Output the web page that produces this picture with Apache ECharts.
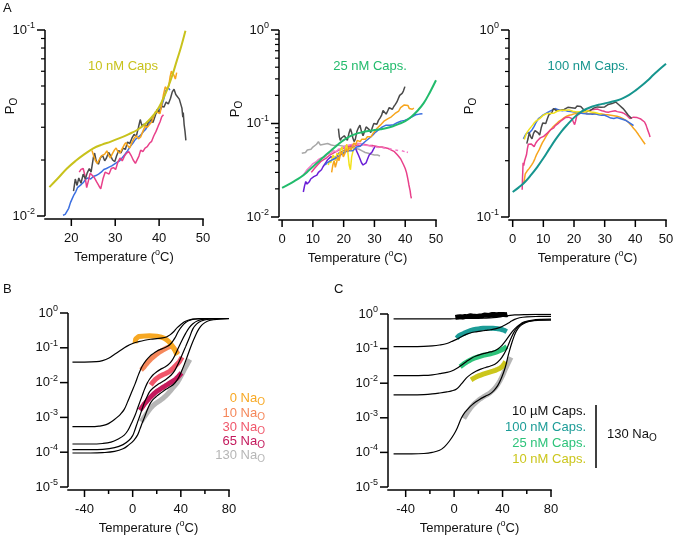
<!DOCTYPE html>
<html><head><meta charset="utf-8">
<script src="https://cdn.jsdelivr.net/npm/echarts@6/dist/echarts.min.js"></script>
<style>html,body{margin:0;padding:0;background:#fff}#c{width:673px;height:538px}</style>
</head><body><div id="c"></div>
<script>
// ---------- Panel A1 : 10 nM capsaicin ----------
const a1Fit = [[15,0.0143],[17,0.0160],[19,0.0180],[21,0.0198],[23,0.0215],[25,0.0231],[27,0.0242],[29,0.0251],[31,0.0262],[33,0.0275],[35,0.0290],[37,0.0315],[39,0.0355],[40,0.0385],[41,0.0430],[42,0.0490],[43,0.0570],[44,0.0680],[45,0.0810],[46,0.0990]];
const a1Grey = [[20.5,0.0136],[20.9,0.0158],[21.3,0.0146],[21.7,0.0160],[22.2,0.0150],[22.7,0.0168],[23.2,0.0158],[23.6,0.0170],[24.1,0.0180],[24.5,0.0172],[25.0,0.0205],[25.3,0.0218],[25.7,0.0196],[26.2,0.0190],[26.6,0.0205],[27.1,0.0212],[27.6,0.0198],[28.0,0.0205],[28.5,0.0220],[28.9,0.0212],[29.4,0.0200],[29.9,0.0196],[30.3,0.0210],[30.8,0.0225],[31.3,0.0218],[31.8,0.0232],[32.3,0.0228],[32.8,0.0250],[33.3,0.0245],[33.8,0.0262],[34.3,0.0275],[34.8,0.0268],[35.3,0.0300],[35.7,0.0330],[36.1,0.0305],[36.6,0.0312],[37.1,0.0300],[37.6,0.0322],[38.1,0.0330],[38.6,0.0318],[39.1,0.0345],[39.6,0.0375],[40.1,0.0360],[40.6,0.0390],[41.1,0.0385],[41.6,0.0410],[42.1,0.0400],[42.6,0.0430],[43.0,0.0465],[43.4,0.0480],[43.8,0.0450],[44.2,0.0440],[44.6,0.0425],[45.0,0.0415],[45.2,0.0380],[45.4,0.0340],[45.5,0.0360],[45.7,0.0310],[45.9,0.0285],[46.1,0.0255]];
const a1Blue = [[18.1,0.0101],[18.6,0.0102],[19.0,0.0106],[19.4,0.0110],[19.8,0.0118],[20.2,0.0124],[20.6,0.0130],[21.0,0.0135],[21.4,0.0142],[21.8,0.0140],[22.3,0.0148],[22.8,0.0152],[23.3,0.0158],[23.8,0.0160],[24.4,0.0158],[25.0,0.0163],[25.6,0.0165],[26.2,0.0168],[26.8,0.0172],[27.4,0.0178],[28.0,0.0180],[28.6,0.0183],[29.2,0.0186],[29.8,0.0190],[30.4,0.0194],[31.0,0.0198],[31.6,0.0206],[32.2,0.0214],[32.8,0.0224],[33.4,0.0236],[34.0,0.0246],[34.6,0.0258],[35.2,0.0265],[35.8,0.0272],[36.4,0.0284],[37.0,0.0294],[37.6,0.0310],[38.2,0.0330],[38.8,0.0348],[39.4,0.0360],[40.0,0.0372],[40.5,0.0385],[41.0,0.0420],[41.5,0.0470],[42.0,0.0490],[42.5,0.0476]];
const a1Pink = [[21.8,0.0172],[22.2,0.0178],[22.7,0.0180],[23.1,0.0165],[23.5,0.0142],[23.9,0.0155],[24.3,0.0170],[24.8,0.0165],[25.3,0.0160],[25.8,0.0152],[26.3,0.0145],[26.7,0.0140],[27.2,0.0158],[27.7,0.0172],[28.1,0.0175],[28.6,0.0168],[29.1,0.0180],[29.6,0.0182],[30.1,0.0178],[30.6,0.0195],[31.1,0.0205],[31.6,0.0198],[32.1,0.0210],[32.6,0.0218],[33.1,0.0222],[33.6,0.0212],[34.1,0.0200],[34.6,0.0192],[35.0,0.0188],[35.4,0.0210],[35.8,0.0226],[36.3,0.0222],[36.8,0.0232],[37.3,0.0236],[37.8,0.0246],[38.3,0.0252],[38.8,0.0270],[39.3,0.0285],[39.8,0.0305],[40.2,0.0320],[40.6,0.0342],[41.0,0.0350]];
const a1Orange = [[24.7,0.0225],[25.1,0.0210],[25.5,0.0198],[25.9,0.0192],[26.3,0.0200],[26.8,0.0210],[27.2,0.0205],[27.6,0.0215],[28.1,0.0224],[28.5,0.0212],[28.9,0.0205],[29.3,0.0215],[29.8,0.0226],[30.2,0.0232],[30.6,0.0222],[31.1,0.0218],[31.5,0.0228],[32.0,0.0240],[32.4,0.0248],[32.9,0.0238],[33.3,0.0232],[33.8,0.0248],[34.3,0.0262],[34.8,0.0270],[35.3,0.0260],[35.8,0.0266],[36.3,0.0285],[36.8,0.0305],[37.3,0.0300],[37.8,0.0310],[38.3,0.0320],[38.8,0.0345],[39.2,0.0365],[39.7,0.0360],[40.2,0.0355],[40.6,0.0400],[41.0,0.0450],[41.4,0.0495],[41.8,0.0480],[42.2,0.0500],[42.5,0.0560],[42.8,0.0600],[43.1,0.0615],[43.4,0.0570],[43.7,0.0545],[44.0,0.0590]];

// ---------- Panel A2 : 25 nM capsaicin ----------
const a2Fit = [[0,0.0205],[2,0.0222],[4,0.0242],[6,0.0266],[8,0.0300],[10,0.0345],[12,0.0395],[14,0.0455],[16,0.0518],[18,0.0590],[20,0.0665],[22,0.0730],[24,0.0775],[26,0.0805],[28,0.0830],[30,0.0850],[32,0.0870],[34,0.0895],[36,0.0935],[38,0.0990],[40,0.1060],[42,0.1180],[44,0.1370],[46,0.1650],[48,0.2150],[50,0.2900]];
const a2DarkGrey = [[18.3,0.088],[18.6,0.072],[18.9,0.066],[19.3,0.070],[19.7,0.068],[20.2,0.074],[20.7,0.070],[21.2,0.066],[21.7,0.078],[22.2,0.088],[22.6,0.080],[23.0,0.070],[23.4,0.064],[23.8,0.068],[24.3,0.082],[24.8,0.090],[25.3,0.096],[25.8,0.082],[26.3,0.074],[26.8,0.082],[27.3,0.092],[27.8,0.096],[28.3,0.086],[28.8,0.080],[29.3,0.090],[29.8,0.100],[30.3,0.105],[30.8,0.098],[31.3,0.108],[31.8,0.114],[32.3,0.122],[32.8,0.138],[33.3,0.132],[33.8,0.126],[34.3,0.136],[34.8,0.148],[35.3,0.150],[35.8,0.142],[36.3,0.152],[36.8,0.160],[37.3,0.170],[37.8,0.178],[38.2,0.200],[38.6,0.196],[39.0,0.210],[39.4,0.222],[39.9,0.248]];
const a2Orange = [[16.1,0.030],[16.5,0.036],[16.9,0.040],[17.3,0.034],[17.7,0.038],[18.1,0.044],[18.5,0.040],[18.9,0.046],[19.4,0.050],[19.9,0.044],[20.4,0.048],[20.9,0.054],[21.4,0.050],[21.9,0.056],[22.4,0.052],[22.9,0.058],[23.4,0.062],[23.9,0.059],[24.4,0.066],[24.9,0.068],[25.4,0.064],[25.9,0.068],[26.5,0.070],[27.1,0.068],[27.7,0.072],[28.3,0.074],[28.9,0.072],[29.5,0.078],[30.1,0.082],[30.7,0.088],[31.3,0.090],[31.9,0.096],[32.5,0.100],[33.1,0.106],[33.7,0.108],[34.3,0.112],[34.9,0.114],[35.5,0.118],[36.1,0.122],[36.7,0.128],[37.3,0.132],[37.9,0.136],[38.5,0.148],[39.1,0.150],[39.7,0.158],[40.3,0.162],[40.9,0.156],[41.3,0.145],[41.8,0.150],[42.3,0.142],[42.8,0.146]];
const a2Blue = [[14.0,0.036],[14.6,0.038],[15.2,0.037],[15.8,0.040],[16.4,0.039],[17.0,0.042],[17.6,0.041],[18.2,0.044],[18.8,0.043],[19.4,0.047],[20.0,0.048],[20.6,0.050],[21.2,0.049],[21.8,0.051],[22.4,0.052],[23.0,0.051],[23.6,0.053],[24.2,0.056],[24.8,0.058],[25.4,0.057],[26.0,0.060],[26.6,0.062],[27.2,0.065],[27.8,0.066],[28.4,0.070],[29.0,0.072],[29.6,0.076],[30.2,0.080],[30.8,0.084],[31.4,0.086],[32.0,0.089],[32.6,0.092],[33.2,0.094],[33.8,0.096],[34.4,0.097],[35.0,0.096],[35.6,0.098],[36.2,0.097],[36.8,0.099],[37.4,0.102],[38.0,0.104],[38.6,0.106],[39.2,0.105],[39.8,0.108],[40.4,0.110],[41.0,0.112],[41.6,0.116],[42.2,0.118],[42.8,0.122],[43.4,0.124],[44.0,0.122],[44.6,0.126],[45.2,0.124],[45.6,0.127]];
const a2LightGrey = [[6.4,0.048],[7.0,0.050],[7.6,0.049],[8.2,0.052],[8.8,0.054],[9.4,0.053],[10.0,0.056],[10.6,0.058],[11.2,0.060],[11.8,0.064],[12.4,0.059],[13.0,0.058],[13.6,0.060],[14.2,0.059],[14.8,0.061],[15.4,0.060],[16.0,0.059],[17.0,0.058],[18.0,0.059],[19.0,0.058],[20.0,0.057],[21.0,0.057],[22.0,0.056],[23.0,0.055],[24.0,0.054],[25.0,0.053],[26.0,0.051],[27.0,0.049],[28.0,0.048],[29.0,0.047],[30.0,0.046],[31.0,0.046],[31.8,0.045]];
const a2Purple = [[6.9,0.0185],[7.3,0.0215],[7.7,0.0240],[8.1,0.0225],[8.5,0.0215],[8.9,0.0240],[9.3,0.0255],[9.8,0.0248],[10.3,0.0270],[10.8,0.0262],[11.3,0.0280],[11.8,0.0300],[12.3,0.0295],[12.8,0.0320],[13.3,0.0345],[13.8,0.0330],[14.3,0.0385],[14.8,0.0410],[15.3,0.0395],[15.8,0.0440],[16.3,0.0460],[16.8,0.0430],[17.3,0.0450],[17.8,0.0440],[18.3,0.0480],[18.8,0.0460],[19.3,0.0500],[19.8,0.0480],[20.3,0.0520],[20.8,0.0540],[21.3,0.0510],[21.8,0.0550],[22.3,0.0590],[22.8,0.0560],[23.3,0.0580],[23.8,0.0550],[24.3,0.0500],[24.8,0.0460],[25.3,0.0420],[25.8,0.0380],[26.3,0.0360],[26.8,0.0350],[27.3,0.0380],[27.8,0.0420],[28.3,0.0460],[28.8,0.0440],[29.3,0.0500],[29.8,0.0540],[30.2,0.0570]];
const a2HotPink = [[9.5,0.030],[10.5,0.033],[11.5,0.036],[12.5,0.039],[13.5,0.041],[14.5,0.043],[15.5,0.046],[16.5,0.048],[17.5,0.050],[18.5,0.052],[19.5,0.054],[20.5,0.055],[21.5,0.056],[22.5,0.058],[23.5,0.057],[24.5,0.059],[25.5,0.058],[26.5,0.060],[27.5,0.059],[28.5,0.058],[29.5,0.058],[30.5,0.057],[31.5,0.056],[32.5,0.056],[33.5,0.055],[34.5,0.054],[35.5,0.052],[36.5,0.050],[37.0,0.048],[37.5,0.046],[38.0,0.044],[38.5,0.042],[39.0,0.040],[39.5,0.036],[40.0,0.033],[40.4,0.030],[40.7,0.027],[41.0,0.024],[41.2,0.022],[41.4,0.023],[41.6,0.019],[41.8,0.017],[42.0,0.0158]];
const a2LightPink = [[6.9,0.028],[7.5,0.030],[8.1,0.032],[8.7,0.033],[9.3,0.035],[9.9,0.037],[10.5,0.036],[11.1,0.039],[11.7,0.041],[12.3,0.040],[12.9,0.043],[13.5,0.045],[14.1,0.044],[14.7,0.047],[15.3,0.049],[15.9,0.048],[16.5,0.051],[17.1,0.052],[17.7,0.050],[18.3,0.053],[18.9,0.055],[19.5,0.054],[20.1,0.056],[20.7,0.058],[21.3,0.057],[21.9,0.059],[22.5,0.061],[23.1,0.060],[23.7,0.062],[24.3,0.061],[24.9,0.063],[25.5,0.061],[26.1,0.060],[26.7,0.059],[27.3,0.060],[27.9,0.058],[28.5,0.058],[29.1,0.057],[29.7,0.056]];
// sparse dashed tail: '-' marks the gaps between the recorded dashes
const a2LightPinkTail = [[30.5,0.056],[31.4,0.0555],[32.0,'-'],[32.6,0.055],[33.5,0.0545],[34.1,'-'],[34.7,0.054],[35.6,0.053],[36.2,'-'],[36.8,0.052],[37.7,0.0515],[38.3,'-'],[38.9,0.051],[39.8,0.050],[40.2,'-'],[40.5,0.0495],[40.9,0.049]];
const a2Yellow = [[15.0,0.036],[15.4,0.040],[15.8,0.038],[16.2,0.042],[16.6,0.046],[17.0,0.044],[17.4,0.040],[17.8,0.048],[18.2,0.050],[18.6,0.046],[19.0,0.052],[19.4,0.056],[19.8,0.050],[20.2,0.046],[20.6,0.054],[21.0,0.060],[21.4,0.048],[21.8,0.036],[22.2,0.032],[22.6,0.044],[23.0,0.050],[23.4,0.056],[23.8,0.054]];

// ---------- Panel A3 : 100 nM capsaicin ----------
const a3Fit = [[0,0.136],[2,0.144],[4,0.154],[6,0.168],[8,0.185],[10,0.206],[12,0.232],[14,0.260],[16,0.288],[18,0.314],[20,0.340],[22,0.362],[24,0.378],[26,0.390],[28,0.398],[30,0.405],[32,0.412],[34,0.420],[36,0.432],[38,0.450],[40,0.474],[42,0.503],[44,0.537],[46,0.578],[48,0.618],[50,0.660]];
const a3Blue = [[3.5,0.262],[4.0,0.272],[4.5,0.280],[5.0,0.276],[5.6,0.284],[6.3,0.292],[7.0,0.305],[7.7,0.322],[8.4,0.336],[9.1,0.342],[9.8,0.350],[10.6,0.356],[11.4,0.362],[12.2,0.368],[13.0,0.374],[13.8,0.380],[14.6,0.376],[15.4,0.372],[16.2,0.370],[17.0,0.372],[18.0,0.368],[19.0,0.366],[20.0,0.364],[21.0,0.362],[22.0,0.360],[23.0,0.358],[24.0,0.356],[25.0,0.356],[26.0,0.354],[27.0,0.356],[28.0,0.352],[29.0,0.350],[30.0,0.350],[31.0,0.344],[32.0,0.338],[33.0,0.336],[34.0,0.340],[35.0,0.336],[36.0,0.332],[37.0,0.328],[38.0,0.320],[39.0,0.312],[39.4,0.308]];
const a3Grey = [[4.6,0.247],[5.0,0.262],[5.4,0.282],[5.8,0.270],[6.3,0.262],[6.8,0.280],[7.3,0.290],[7.8,0.296],[8.3,0.282],[8.8,0.274],[9.3,0.300],[9.8,0.318],[10.3,0.322],[10.8,0.316],[11.3,0.335],[11.8,0.352],[12.3,0.346],[12.8,0.362],[13.3,0.380],[13.8,0.376],[14.4,0.370],[15.0,0.378],[15.6,0.372],[16.2,0.368],[16.8,0.376],[17.4,0.382],[18.0,0.386],[18.6,0.378],[19.2,0.384],[19.8,0.388],[20.4,0.382],[21.0,0.392],[21.6,0.396],[22.2,0.390],[22.8,0.380],[23.4,0.372],[24.0,0.365],[24.6,0.362],[25.2,0.370],[25.8,0.378],[26.4,0.382],[27.0,0.378],[27.6,0.388],[28.2,0.392],[28.8,0.386],[29.4,0.392],[30.0,0.388],[30.6,0.394],[31.2,0.400],[31.8,0.398],[32.4,0.404],[33.0,0.410],[33.6,0.412],[34.2,0.406],[34.8,0.396],[35.4,0.392],[36.0,0.380],[36.6,0.370],[37.2,0.362],[37.7,0.350],[38.2,0.345],[38.8,0.336]];
const a3Yellow = [[3.8,0.260],[4.2,0.272],[4.6,0.282],[5.0,0.288],[5.5,0.296],[6.0,0.300],[6.5,0.310],[7.0,0.318],[7.6,0.326],[8.2,0.332],[8.8,0.336],[9.4,0.340],[10.0,0.350],[10.6,0.356],[11.2,0.358],[11.8,0.362],[12.4,0.358],[13.0,0.362],[13.6,0.360],[14.2,0.364],[14.8,0.370],[15.4,0.366],[16.0,0.372],[16.6,0.368],[17.2,0.372],[17.8,0.370],[18.4,0.374],[19.0,0.370],[19.6,0.368],[20.2,0.366],[20.8,0.364],[21.4,0.362],[22.0,0.366],[22.6,0.368],[23.2,0.364],[23.8,0.366],[24.4,0.370],[25.0,0.368],[25.6,0.364],[26.2,0.366],[26.8,0.362],[27.4,0.360],[28.0,0.358],[28.6,0.356],[29.0,0.355]];
const a3Pink = [[3.1,0.140],[3.2,0.160],[3.4,0.195],[3.6,0.188],[3.9,0.200],[4.2,0.196],[4.5,0.215],[4.8,0.232],[5.1,0.245],[5.5,0.244],[6.0,0.246],[6.5,0.242],[7.0,0.238],[7.5,0.248],[8.0,0.255],[8.5,0.252],[9.0,0.265],[9.5,0.262],[10.1,0.270],[10.7,0.268],[11.2,0.280],[11.7,0.285],[12.3,0.292],[12.8,0.297],[13.4,0.300],[13.9,0.308],[14.4,0.312],[15.0,0.318],[15.5,0.324],[16.1,0.330],[16.6,0.336],[17.2,0.340],[17.7,0.344],[18.3,0.342],[18.8,0.338],[19.3,0.336],[19.8,0.322],[20.2,0.312],[20.5,0.325],[20.9,0.348],[21.5,0.354],[22.0,0.358],[22.6,0.363],[23.2,0.366],[23.9,0.368],[24.7,0.370],[25.5,0.374],[26.3,0.376],[26.9,0.380],[27.6,0.378],[28.3,0.374],[29.1,0.370],[29.8,0.368],[30.5,0.364],[31.2,0.363],[31.9,0.366],[32.6,0.368],[33.4,0.370],[34.1,0.366],[34.8,0.364],[35.6,0.362],[36.3,0.358],[37.0,0.352],[37.6,0.346],[38.2,0.336],[38.8,0.338],[39.4,0.342],[40.0,0.342],[40.6,0.340],[41.2,0.338],[41.8,0.334],[42.4,0.328],[43.0,0.322],[43.5,0.310],[43.9,0.296],[44.3,0.284],[44.6,0.275],[44.8,0.268]];
const a3Orange = [[3.5,0.150],[3.8,0.158],[4.1,0.170],[4.4,0.166],[4.7,0.176],[5.0,0.172],[5.4,0.182],[5.8,0.186],[6.2,0.190],[6.7,0.196],[7.2,0.204],[7.7,0.214],[8.2,0.222],[8.7,0.230],[9.2,0.240],[9.7,0.250],[10.2,0.258],[10.8,0.268],[11.4,0.278],[12.0,0.288],[12.6,0.296],[13.2,0.304],[13.8,0.310],[14.5,0.318],[15.2,0.326],[16.0,0.332],[16.8,0.340],[17.6,0.346],[18.4,0.350],[19.2,0.352],[20.0,0.356],[21.0,0.358],[22.0,0.360],[23.0,0.360],[24.0,0.358],[25.0,0.356],[26.0,0.358],[27.0,0.356],[28.0,0.356],[29.0,0.355],[30.0,0.353],[31.0,0.352],[32.0,0.350],[33.0,0.348],[34.0,0.346],[35.0,0.342],[36.0,0.336],[37.0,0.328],[37.8,0.320],[38.6,0.310],[39.4,0.298],[40.2,0.288],[41.0,0.276],[41.8,0.264],[42.5,0.254],[43.2,0.245]];

// ---------- Panel B : external Na+ ----------
const bFit0 = [[-50,0.039],[-40,0.039],[-30,0.040],[-25,0.043],[-20,0.050],[-15,0.065],[-10,0.085],[-5,0.110],[0,0.133],[5,0.150],[10,0.165],[15,0.176],[20,0.184],[25,0.192],[28,0.205],[31,0.235],[34,0.290],[37,0.380],[40,0.470],[43,0.560],[46,0.620],[50,0.665],[55,0.685],[60,0.690],[70,0.692],[80,0.692]];
const bFit10 = [[-50,0.00054],[-35,0.00054],[-28,0.00056],[-22,0.00062],[-17,0.00078],[-13,0.00100],[-10,0.00125],[-7,0.0017],[-4,0.0029],[-1,0.0052],[2,0.0092],[5,0.0175],[8,0.0300],[11,0.0430],[14,0.0560],[17,0.0680],[20,0.0800],[23,0.0900],[26,0.0990],[29,0.1100],[32,0.1350],[35,0.1900],[38,0.3000],[41,0.4200],[44,0.5300],[47,0.6100],[51,0.6650],[57,0.6900],[68,0.6950],[80,0.6950]];
const bFit30 = [[-50,0.000172],[-35,0.000172],[-25,0.000178],[-18,0.000195],[-12,0.00024],[-7,0.00031],[-4,0.00042],[-1,0.00068],[2,0.00115],[4,0.0018],[6,0.0028],[8,0.0043],[10,0.0066],[12,0.0095],[14,0.0125],[17,0.0168],[20,0.0205],[23,0.0240],[26,0.0272],[29,0.0315],[32,0.0400],[35,0.0600],[38,0.1000],[41,0.1650],[44,0.2600],[47,0.3800],[50,0.4900],[54,0.6000],[60,0.6700],[70,0.6900],[80,0.6950]];
const bFit65 = [[-50,0.000118],[-35,0.000118],[-25,0.000121],[-15,0.000135],[-8,0.000165],[-3,0.00022],[0,0.00030],[2,0.00045],[4,0.00072],[6,0.00112],[8,0.0018],[10,0.0028],[12,0.0040],[14,0.0054],[17,0.0070],[20,0.0084],[23,0.0098],[26,0.0113],[29,0.0135],[32,0.0165],[35,0.0225],[38,0.0360],[41,0.0620],[44,0.1080],[47,0.1900],[50,0.3500],[53,0.4800],[57,0.5900],[63,0.6600],[72,0.6900],[80,0.6950]];
const bFit130 = [[-50,0.000095],[-35,0.000095],[-25,0.000097],[-15,0.000105],[-8,0.000125],[-3,0.000165],[1,0.00022],[4,0.00031],[6,0.00046],[8,0.00070],[10,0.00105],[12,0.00160],[14,0.0023],[16,0.0030],[19,0.0038],[22,0.0046],[25,0.0055],[28,0.0065],[31,0.0076],[34,0.0090],[37,0.0120],[40,0.0190],[43,0.0340],[46,0.0650],[49,0.1250],[52,0.2200],[55,0.3500],[58,0.4700],[62,0.5800],[67,0.6400],[73,0.6800],[80,0.6950]];
const bData0 = [[2,0.135],[2.5,0.18],[3,0.20],[5,0.21],[8,0.215],[11,0.22],[14,0.222],[17,0.22],[20,0.215],[23,0.205],[26,0.19],[28,0.172],[30,0.15],[32,0.125],[33.5,0.105],[35,0.085],[36,0.072],[37,0.062]];
const bData10 = [[7,0.023],[9,0.027],[11,0.033],[13,0.040],[15,0.047],[17,0.054],[19,0.062],[21,0.070],[23,0.078],[25,0.086],[27,0.094],[29,0.102],[31,0.108],[33,0.110],[34.5,0.100],[36,0.082],[37.5,0.066]];
const bData30 = [[15,0.0085],[17,0.0105],[19,0.0125],[21,0.0140],[23,0.0155],[25,0.0168],[27,0.0180],[29,0.0195],[31,0.0215],[33,0.0245],[35,0.0290],[37,0.0340],[39,0.0410],[40.5,0.0500],[41,0.0540]];
const bData65 = [[6,0.0016],[8,0.0020],[10,0.0025],[12,0.0030],[14,0.0036],[16,0.0042],[18,0.0049],[20,0.0056],[22,0.0062],[24,0.0069],[26,0.0076],[28,0.0084],[30,0.0093],[32,0.0103],[34,0.0113],[36,0.0128],[38,0.0150],[39.5,0.0172],[40.5,0.0190]];
const bData130 = [[7,0.00075],[9,0.00095],[11,0.00120],[13,0.00150],[15,0.00185],[17,0.0022],[19,0.0025],[21,0.0028],[23,0.0031],[25,0.0035],[27,0.0040],[29,0.0047],[31,0.0056],[33,0.0068],[35,0.0082],[37,0.0100],[39,0.0130],[41,0.0175],[43,0.0240],[45,0.0320],[46.5,0.0400],[47.5,0.0460]];
const bLabels = ['0', '10', '30', '65', '130'];

// ---------- Panel C : capsaicin, 130 Na+ ----------
const cFit10u = [[-50,0.72],[-30,0.72],[-10,0.722],[0,0.73],[10,0.74],[20,0.75],[30,0.77],[35,0.80],[40,0.85],[45,0.90],[50,0.94],[60,0.965],[70,0.975],[80,0.98]];
const cFit100n = [[-50,0.114],[-35,0.114],[-25,0.116],[-18,0.120],[-12,0.127],[-6,0.140],[-2,0.160],[2,0.185],[6,0.220],[10,0.258],[14,0.288],[18,0.306],[22,0.320],[26,0.335],[30,0.350],[34,0.370],[38,0.410],[42,0.480],[46,0.580],[50,0.700],[54,0.780],[60,0.830],[70,0.850],[80,0.855]];
const cFit25n = [[-50,0.0166],[-35,0.0166],[-25,0.0168],[-18,0.0175],[-12,0.0188],[-6,0.0205],[-2,0.0225],[2,0.0265],[6,0.0330],[10,0.0420],[14,0.0520],[18,0.0610],[22,0.0680],[26,0.0740],[30,0.0800],[34,0.0880],[38,0.1100],[42,0.1600],[46,0.2500],[50,0.3700],[54,0.4900],[58,0.5900],[64,0.6600],[72,0.7000],[80,0.7100]];
const cFit10n = [[-50,0.0046],[-35,0.0046],[-25,0.0047],[-18,0.0049],[-12,0.0052],[-6,0.0056],[-2,0.0060],[2,0.0068],[6,0.0095],[10,0.0140],[14,0.0183],[18,0.0222],[22,0.0255],[26,0.0285],[30,0.0315],[34,0.0360],[38,0.0480],[41,0.0680],[44,0.1100],[47,0.2000],[50,0.3200],[53,0.4400],[57,0.5400],[62,0.6200],[70,0.6600],[80,0.6700]];
const cFit130 = [[-50,0.0000912],[-35,0.0000912],[-25,0.000093],[-18,0.0001],[-12,0.000115],[-8,0.000145],[-4,0.00021],[0,0.00034],[3,0.00055],[6,0.00098],[9,0.00145],[12,0.0019],[15,0.0024],[18,0.0029],[21,0.0034],[24,0.0039],[27,0.0044],[30,0.0050],[33,0.0062],[36,0.0085],[39,0.0140],[42,0.0270],[45,0.0700],[48,0.1600],[51,0.3000],[54,0.4300],[58,0.5400],[63,0.6200],[70,0.6600],[80,0.6700]];
const cData10u = [[1,0.80],[2,0.86],[3,0.82],[4,0.88],[5,0.84],[6,0.86],[7,0.82],[8,0.87],[9,0.85],[10,0.88],[11,0.84],[12,0.86],[13,0.89],[14,0.85],[15,0.87],[16,0.90],[17,0.86],[18,0.88],[19,0.85],[20,0.89],[21,0.87],[22,0.91],[23,0.88],[24,0.90],[25,0.93],[26,0.89],[27,0.92],[28,0.95],[29,0.91],[30,0.94],[31,0.97],[32,0.93],[33,0.96],[34,0.99],[35,0.95],[36,0.98],[37,0.96],[38,1.0],[39,0.97],[40,0.99],[41,0.96],[42,0.98],[43,0.95],[44,0.97]];
const cData100n = [[2,0.20],[3,0.22],[4,0.235],[6,0.255],[8,0.275],[10,0.295],[12,0.315],[14,0.335],[16,0.350],[18,0.362],[20,0.372],[22,0.380],[24,0.385],[26,0.388],[28,0.390],[30,0.390],[32,0.388],[34,0.384],[36,0.376],[38,0.366],[40,0.350],[42,0.330],[43.5,0.310]];
const cData25n = [[5,0.030],[6,0.033],[8,0.036],[10,0.040],[12,0.044],[14,0.048],[16,0.052],[18,0.055],[20,0.058],[22,0.061],[24,0.064],[26,0.066],[28,0.068],[30,0.071],[32,0.074],[34,0.078],[36,0.082],[38,0.088],[40,0.095],[42,0.105],[43.5,0.114]];
const cData10n = [[14,0.0125],[16,0.0138],[18,0.0150],[20,0.0162],[22,0.0172],[24,0.0182],[26,0.0192],[28,0.0202],[30,0.0212],[32,0.0222],[34,0.0235],[36,0.0252],[38,0.0272],[40,0.0310],[41.5,0.0370],[42.5,0.0420]];
const cData130 = [[8,0.00095],[10,0.00125],[12,0.0016],[14,0.0020],[16,0.0024],[18,0.0028],[20,0.0032],[22,0.0036],[24,0.0040],[26,0.0044],[28,0.0048],[30,0.0054],[32,0.0062],[34,0.0074],[36,0.0092],[38,0.0120],[40,0.0165],[42,0.0240],[44,0.0340],[46,0.0480],[47,0.0560]];
const cLegend = ['10 µM Caps.', '100 nM Caps.', '25 nM Caps.', '10 nM Caps.'];

// ---------- tick values ----------
const xTicksA1 = [20, 30, 40, 50];
const xTicksA = [0, 10, 20, 30, 40, 50];
const xTicksBC = [-40, 0, 40, 80];
const xMinorBC = [-20, 20, 60];
const yTicksA1 = [0.01, 0.1];
const yTicksA2 = [0.01, 0.1, 1];
const yTicksA3 = [0.1, 1];
const yTicksBC = [1e-5, 1e-4, 1e-3, 1e-2, 1e-1, 1];
const yMinorA1 = [0.02,0.03,0.04,0.05,0.06,0.07,0.08,0.09];
const yMinorA2 = [0.02,0.03,0.04,0.05,0.06,0.07,0.08,0.09,0.2,0.3,0.4,0.5,0.6,0.7,0.8,0.9];
const yMinorA3 = [0.2,0.3,0.4,0.5,0.6,0.7,0.8,0.9];

// ---------- layout & style ----------
const FONT = '"Liberation Sans", Arial, sans-serif';
const TXT = '#111';
const C = {
  yel: '#c8c21c', grn: '#22bb6c', teal: '#16958e',
  dgrey: '#4a4a4a', blue: '#3b6fe0', orange: '#f7a51c', pink: '#e8408a',
  purple: '#6a1fd6', lgrey: '#a8a8a8', lpink: '#f47cc8', yellow: '#f2e21a',
  bOr: '#f7a823', bSal: '#f5875a', bCor: '#f0566a', bCrim: '#c3195c', bGrey: '#b6b6b6',
  cTeal: '#1c9c97', cGrn: '#2dc37a', cYel: '#cbc61c'
};
const grids = [
  {left: 45, top: 30, width: 158, height: 186},
  {left: 279, top: 30, width: 157, height: 187},
  {left: 509, top: 30, width: 157, height: 187},
  {left: 68, top: 313, width: 161, height: 174},
  {left: 388, top: 314, width: 163, height: 173}
].map(g => Object.assign(g, {outerBoundsMode: 'none', containLabel: false}));
const xRanges = [[14, 50], [-1, 50], [-1.2, 50], [-53.7, 80], [-54.6, 80]];
const yRanges = [[0.01, 0.1], [0.01, 1], [0.1, 1], [1e-5, 1], [1e-5, 1]];
const xMajorByPanel = [xTicksA1, xTicksA, xTicksA, xTicksBC, xTicksBC];
const xMinorByPanel = [[], [], [], xMinorBC, xMinorBC];
const yMajorByPanel = [yTicksA1, yTicksA2, yTicksA3, yTicksBC, yTicksBC];
const yMinorByPanel = [yMinorA1, yMinorA2, yMinorA3, [], []];
const X_OFFSET = 3;

function supRich() {
  return {
    b: {fontSize: 13, color: TXT, fontFamily: FONT},
    s: {fontSize: 9, color: TXT, fontFamily: FONT, padding: [0, 0, 9, 0]}
  };
}
// axis components: labels and titles (lines/ticks are drawn by the frame series below)
const xAxis = xRanges.map((r, i) => ({
  type: 'value', gridIndex: i, min: r[0], max: r[1], position: 'bottom', offset: X_OFFSET,
  axisLine: {show: false, onZero: false}, axisTick: {show: false}, splitLine: {show: false},
  axisLabel: {customValues: xMajorByPanel[i].slice(), color: TXT, fontSize: 13, fontFamily: FONT, margin: 13},
  name: '{b|Temperature (}{s|o}{b|C)}', nameLocation: 'middle', nameGap: 29,
  nameTextStyle: {rich: supRich()}
}));
const yAxis = yRanges.map((r, i) => ({
  type: 'log', logBase: 10, gridIndex: i, min: r[0], max: r[1], position: 'left',
  axisLine: {show: false, onZero: false}, axisTick: {show: false}, splitLine: {show: false},
  axisLabel: {margin: 10, formatter: v => '{b|10}{s|' + Math.round(Math.log10(v)) + '}', rich: supRich()}
}));

// ---------- data series ----------
function ln(data, p, color, width, extra) {
  return Object.assign({
    type: 'line', data, xAxisIndex: p, yAxisIndex: p, showSymbol: false, symbol: 'none',
    lineStyle: {color, width}, itemStyle: {color}, silent: true, animation: false, z: 2
  }, extra || {});
}
const sm = () => ({smooth: 0.4, z: 3});
const series = [
  ln(a1Blue, 0, C.blue, 1.5), ln(a1Pink, 0, C.pink, 1.5), ln(a1Grey, 0, C.dgrey, 1.5),
  ln(a1Orange, 0, C.orange, 1.5), ln(a1Fit, 0, C.yel, 2, sm()),
  ln(a2LightGrey, 1, C.lgrey, 1.5), ln(a2Purple, 1, C.purple, 1.5), ln(a2HotPink, 1, C.pink, 1.5),
  ln(a2LightPink, 1, C.lpink, 1.5), ln(a2LightPinkTail, 1, C.lpink, 1.5, {connectNulls: false}),
  ln(a2Yellow, 1, C.yellow, 1.5), ln(a2Blue, 1, C.blue, 1.5), ln(a2Orange, 1, C.orange, 1.5),
  ln(a2DarkGrey, 1, C.dgrey, 1.5), ln(a2Fit, 1, C.grn, 2, sm()),
  ln(a3Orange, 2, C.orange, 1.5), ln(a3Pink, 2, C.pink, 1.5), ln(a3Blue, 2, C.blue, 1.5),
  ln(a3Grey, 2, C.dgrey, 1.5), ln(a3Yellow, 2, C.yellow, 1.5), ln(a3Fit, 2, C.teal, 2, sm()),
  ln(bData130, 3, C.bGrey, 5), ln(bData65, 3, C.bCrim, 5), ln(bData30, 3, C.bCor, 5),
  ln(bData10, 3, C.bSal, 5), ln(bData0, 3, C.bOr, 5),
  ln(bFit0, 3, '#000', 1.2, sm()), ln(bFit10, 3, '#000', 1.2, sm()),
  ln(bFit30, 3, '#000', 1.2, sm()), ln(bFit65, 3, '#000', 1.2, sm()),
  ln(bFit130, 3, '#000', 1.2, sm()),
  ln(cData130, 4, C.bGrey, 5), ln(cData10n, 4, C.cYel, 5), ln(cData25n, 4, C.cGrn, 5),
  ln(cData100n, 4, C.cTeal, 5), ln(cData10u, 4, '#000', 5),
  ln(cFit10u, 4, '#000', 1.2, sm()), ln(cFit100n, 4, '#000', 1.2, sm()),
  ln(cFit25n, 4, '#000', 1.2, sm()), ln(cFit10n, 4, '#000', 1.2, sm()),
  ln(cFit130, 4, '#000', 1.2, sm())
];

// ---------- axis frames: lines + ticks placed through the axes' own scales ----------
// kind: 0 major y tick, 1 minor y tick, 2 major x tick, 3 minor x tick, 4 y axis line, 5 x axis line
function frameSeries(p) {
  const xr = xRanges[p], yr = yRanges[p];
  const items = [];
  yMajorByPanel[p].forEach(v => items.push([xr[0], v, 0]));
  yMinorByPanel[p].forEach(v => items.push([xr[0], v, 1]));
  xMajorByPanel[p].forEach(v => items.push([v, yr[0], 2]));
  xMinorByPanel[p].forEach(v => items.push([v, yr[0], 3]));
  items.push([xr[0], yr[0], 4]);
  items.push([xr[0], yr[0], 5]);
  return {
    type: 'custom', coordinateSystem: 'cartesian2d', xAxisIndex: p, yAxisIndex: p,
    clip: false, silent: true, animation: false, z: 5, data: items,
    renderItem: function (params, api) {
      const x = api.value(0), y = api.value(1), kind = api.value(2);
      const pt = api.coord([x, y]);
      const st = {stroke: '#000', lineWidth: kind === 1 ? 1.2 : 1.5, fill: null};
      let shape;
      if (kind === 0 || kind === 1) {
        const len = kind === 0 ? 8 : 4;
        shape = {x1: pt[0] - len, y1: pt[1], x2: pt[0], y2: pt[1]};
      } else if (kind === 2 || kind === 3) {
        const len = kind === 2 ? 7 : 4;
        shape = {x1: pt[0], y1: pt[1] + X_OFFSET, x2: pt[0], y2: pt[1] + X_OFFSET + len};
      } else if (kind === 4) {
        const top = api.coord([x, yr[1]]);
        shape = {x1: pt[0], y1: pt[1], x2: top[0], y2: top[1]};
      } else {
        const right = api.coord([xr[1], y]);
        shape = {x1: pt[0] - 0.75, y1: pt[1] + X_OFFSET, x2: right[0] + 0.75, y2: right[1] + X_OFFSET};
      }
      return {type: 'line', shape, style: st};
    }
  };
}
for (let p = 0; p < 5; p++) series.push(frameSeries(p));

// ---------- texts ----------
function subRich(color) {
  return {
    b: {fontSize: 13, fill: color, fontFamily: FONT},
    s: {fontSize: 10, fill: color, fontFamily: FONT, padding: [8, 0, 0, 0]}
  };
}
function txt(x, y, text, color, align) {
  return {type: 'text', x, y, silent: true, style: {
    text, fill: color, font: '13px ' + FONT, align: align || 'center', verticalAlign: 'middle'
  }};
}
function richTxt(x, y, text, color, align, rot) {
  return {type: 'text', x, y, rotation: rot || 0, silent: true, style: {
    text, fill: color, font: '13px ' + FONT, align: align || 'center', verticalAlign: 'middle',
    rich: subRich(color)
  }};
}
const bColors = [C.bOr, C.bSal, C.bCor, C.bCrim, C.bGrey];
const bY = [398, 413, 427, 441, 455];
const cColors = ['#111', C.cTeal, C.cGrn, C.cYel];
const cY = [411, 427, 443, 459];
const graphic = [
  txt(3, 8, 'A', TXT, 'left'), txt(3, 289, 'B', TXT, 'left'), txt(334, 289, 'C', TXT, 'left'),
  richTxt(10, 106, '{b|P}{s|O}', TXT, 'center', Math.PI / 2),
  richTxt(235, 109, '{b|P}{s|O}', TXT, 'center', Math.PI / 2),
  richTxt(469, 106, '{b|P}{s|O}', TXT, 'center', Math.PI / 2),
  txt(123, 66, '10 nM Caps', C.yel), txt(370, 66, '25 nM Caps.', C.grn), txt(588, 66, '100 nM Caps.', C.teal)
];
bLabels.forEach((l, i) => graphic.push(richTxt(265, bY[i], '{b|' + l + ' Na}{s|O}', bColors[i], 'right')));
cLegend.forEach((l, i) => graphic.push(txt(586, cY[i], l, cColors[i], 'right')));
graphic.push({type: 'line', silent: true, shape: {x1: 596, y1: 405, x2: 596, y2: 468}, style: {stroke: '#000', lineWidth: 1.5}});
graphic.push(richTxt(607, 434, '{b|130 Na}{s|O}', TXT, 'left'));

const chart = echarts.init(document.getElementById('c'), null, {renderer: 'canvas'});
chart.setOption({animation: false, grid: grids, xAxis, yAxis, series, graphic});
</script></body></html>
